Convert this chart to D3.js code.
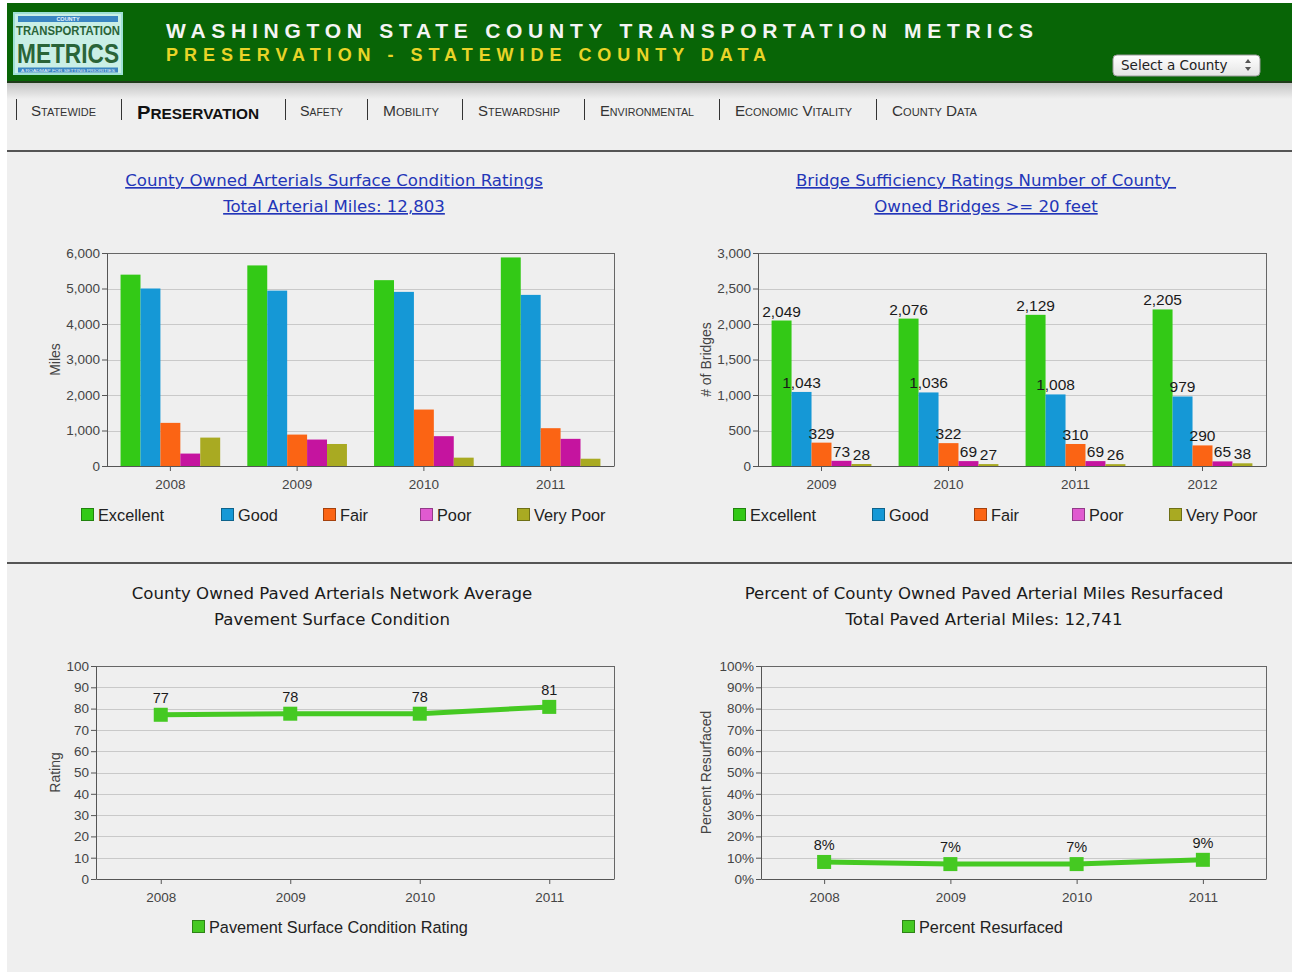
<!DOCTYPE html>
<html><head><meta charset="utf-8">
<script src="https://cdn.jsdelivr.net/npm/d3@7"></script>
<style>body{margin:0;background:#fff}svg{display:block}</style>
</head><body><svg id="c" width="1292" height="973"></svg>
<script>
// ---------- DATA ----------
const seriesNames = ["Excellent", "Good", "Fair", "Poor", "Very Poor"];
const seriesColors = ["#33c916", "#1598d6", "#fb6414", "#c5149f", "#a9aa22"];
const legendColors = ["#33c916", "#1598d6", "#fb6414", "#e05ad0", "#a9aa22"];

const surfaceYears = ["2008", "2009", "2010", "2011"];
const surfaceExcellent = [5390, 5650, 5235, 5875];
const surfaceGood = [5000, 4940, 4905, 4820];
const surfaceFair = [1215, 885, 1590, 1065];
const surfacePoor = [350, 745, 840, 765];
const surfaceVeryPoor = [800, 620, 235, 205];
const surfaceTicks = [0, 1000, 2000, 3000, 4000, 5000, 6000];

const bridgeYears = ["2009", "2010", "2011", "2012"];
const bridgeExcellent = [2049, 2076, 2129, 2205];
const bridgeGood = [1043, 1036, 1008, 979];
const bridgeFair = [329, 322, 310, 290];
const bridgePoor = [73, 69, 69, 65];
const bridgeVeryPoor = [28, 27, 26, 38];
const bridgeTicks = [0, 500, 1000, 1500, 2000, 2500, 3000];

const ratingYears = ["2008", "2009", "2010", "2011"];
const ratingValues = [77.1, 77.6, 77.6, 80.8];
const ratingTicks = [0, 10, 20, 30, 40, 50, 60, 70, 80, 90, 100];

const resurfYears = ["2008", "2009", "2010", "2011"];
const resurfValues = [8, 7, 7, 9];
const resurfTicks = [0, 10, 20, 30, 40, 50, 60, 70, 80, 90, 100];

const navItems = ["Statewide", "Preservation", "Safety", "Mobility", "Stewardship", "Environmental", "Economic Vitality", "County Data"];

// ---------- PAGE ----------
const svg = d3.select("#c");
const SANS = "'Liberation Sans', Arial, sans-serif";
const UI = "'DejaVu Sans', 'Noto Sans', sans-serif";

svg.append("rect").attr("x", 7).attr("y", 3).attr("width", 1285).attr("height", 969).attr("fill", "#efefef");

const defs = svg.append("defs");
const sh = defs.append("linearGradient").attr("id", "shadow").attr("x1", 0).attr("y1", 0).attr("x2", 0).attr("y2", 1);
sh.append("stop").attr("offset", 0).attr("stop-color", "#c4c4c4");
sh.append("stop").attr("offset", 1).attr("stop-color", "#efefef");
const sel = defs.append("linearGradient").attr("id", "selg").attr("x1", 0).attr("y1", 0).attr("x2", 0).attr("y2", 1);
sel.append("stop").attr("offset", 0).attr("stop-color", "#ffffff");
sel.append("stop").attr("offset", 1).attr("stop-color", "#e4e4e4");

// header
svg.append("rect").attr("x", 7).attr("y", 83).attr("width", 1285).attr("height", 16).attr("fill", "url(#shadow)");
svg.append("rect").attr("x", 7).attr("y", 3).attr("width", 1285).attr("height", 80).attr("fill", "#086506");
svg.append("rect").attr("x", 7).attr("y", 81).attr("width", 1285).attr("height", 2).attr("fill", "#1f3a1a");

// logo
const logo = svg.append("g");
logo.append("rect").attr("x", 14).attr("y", 13).attr("width", 108).attr("height", 61).attr("fill", "#c9efe6").attr("stroke", "#9fe0d6").attr("stroke-width", 2);
logo.append("rect").attr("x", 18).attr("y", 16).attr("width", 100).attr("height", 6).attr("fill", "#3a86c2");
logo.append("text").attr("x", 68).attr("y", 21.3).attr("text-anchor", "middle").attr("font-size", 5.5).attr("font-weight", "bold").attr("fill", "#e8f4ff").attr("font-family", SANS).text("COUNTY");
logo.append("text").attr("x", 16).attr("y", 35).attr("font-size", 13).attr("font-weight", "bold").attr("font-family", SANS).attr("fill", "#2a6438")
  .attr("textLength", 104).attr("lengthAdjust", "spacingAndGlyphs").text("TRANSPORTATION");
logo.append("text").attr("x", 17).attr("y", 63).attr("font-size", 27).attr("font-weight", "bold").attr("font-family", SANS).attr("fill", "#2a6438")
  .attr("textLength", 102).attr("lengthAdjust", "spacingAndGlyphs").text("METRICS");
logo.append("rect").attr("x", 18).attr("y", 67.5).attr("width", 100).attr("height", 5).attr("fill", "#3a86c2");
logo.append("text").attr("x", 68).attr("y", 72).attr("text-anchor", "middle").attr("font-size", 3.5).attr("font-family", SANS).attr("fill", "#e8f4ff")
  .attr("textLength", 94).attr("lengthAdjust", "spacingAndGlyphs").text("A ROADMAP FOR SETTING PRIORITIES");

svg.append("text").attr("x", 166).attr("y", 38).attr("font-family", SANS).attr("font-weight", "bold").attr("font-size", 21)
  .attr("fill", "#f4f4f4").attr("textLength", 867).attr("lengthAdjust", "spacing").text("WASHINGTON STATE COUNTY TRANSPORTATION METRICS");
svg.append("text").attr("x", 166).attr("y", 61).attr("font-family", SANS).attr("font-weight", "bold").attr("font-size", 18)
  .attr("fill", "#e9d428").attr("textLength", 600).attr("lengthAdjust", "spacing").text("PRESERVATION - STATEWIDE COUNTY DATA");

// select box
svg.append("rect").attr("x", 1113).attr("y", 55).attr("width", 147).attr("height", 21).attr("rx", 4).attr("fill", "url(#selg)").attr("stroke", "#9a9a9a");
svg.append("text").attr("x", 1121).attr("y", 70).attr("font-family", UI).attr("font-size", 13.5).attr("fill", "#222").text("Select a County");
svg.append("path").attr("d", "M1245,63 L1248,59 L1251,63 Z M1245,67 L1248,71 L1251,67 Z").attr("fill", "#555");

// nav
const navX = [31, 137, 300, 383, 478, 600, 735, 892];
const navW = [65, 122, 43, 56, 82, 94, 117, 85];
const sepX = [16, 121, 285, 367, 462, 584, 719, 876];
sepX.forEach(x => svg.append("line").attr("x1", x + 0.5).attr("x2", x + 0.5).attr("y1", 99).attr("y2", 120).attr("stroke", "#333"));
navItems.forEach((name, i) => {
  const bold = i === 1;
  const big = bold ? 19 : 14.5, small = bold ? 14.5 : 10.5;
  const t = svg.append("text").attr("x", navX[i]).attr("y", bold ? 119 : 116).attr("font-family", SANS)
    .attr("font-weight", bold ? "bold" : "normal").attr("fill", bold ? "#111" : "#333")
    .attr("textLength", navW[i]).attr("lengthAdjust", "spacingAndGlyphs");
  name.split(" ").forEach((w, k) => {
    t.append("tspan").attr("font-size", big).text((k > 0 ? " " : "") + w[0]);
    t.append("tspan").attr("font-size", small).text(w.slice(1).toUpperCase());
  });
});

svg.append("rect").attr("x", 7).attr("y", 150).attr("width", 1285).attr("height", 2).attr("fill", "#555");
svg.append("rect").attr("x", 7).attr("y", 562).attr("width", 1285).attr("height", 2).attr("fill", "#555");

// ---------- titles ----------
function title(cx, y1, y2, l1, l2, link) {
  [[y1, l1], [y2, l2]].forEach(([y, s]) => {
    svg.append("text").attr("x", cx).attr("y", y).attr("text-anchor", "middle").attr("font-family", UI).attr("font-size", 16.6)
      .attr("fill", link ? "#2336b8" : "#1a1a1a").style("text-decoration", link ? "underline" : "none")
      .style("white-space", "pre").text(s);
  });
}
title(334, 186, 212, "County Owned Arterials Surface Condition Ratings", "Total Arterial Miles: 12,803", true);
title(986, 186, 212, "Bridge Sufficiency Ratings Number of County\u00a0", "Owned Bridges >= 20 feet", true);
title(332, 599, 625, "County Owned Paved Arterials Network Average", "Pavement Surface Condition", false);
title(984, 599, 625, "Percent of County Owned Paved Arterial Miles Resurfaced", "Total Paved Arterial Miles: 12,741", false);

// ---------- frame + axes helper ----------
function frame(g, x, y, ticks, fmt, yTitle, titleX) {
  const [x0, x1] = x.range();
  const [yb, yt] = y.range();
  g.append("g").selectAll("line").data(ticks.filter(t => t !== 0)).join("line")
    .attr("x1", x0).attr("x2", x1).attr("y1", d => Math.round(y(d)) + 0.5).attr("y2", d => Math.round(y(d)) + 0.5)
    .attr("stroke", "#c9c9c9");
  g.append("line").attr("x1", x0).attr("x2", x1).attr("y1", yt + 0.5).attr("y2", yt + 0.5).attr("stroke", "#666");
  g.append("line").attr("x1", x1 + 0.5).attr("x2", x1 + 0.5).attr("y1", yt).attr("y2", yb).attr("stroke", "#666");
  const ya = g.append("g").attr("transform", `translate(${x0},0)`)
    .call(d3.axisLeft(y).tickValues(ticks).tickFormat(fmt).tickSize(5).tickPadding(2).tickSizeOuter(0));
  const xa = g.append("g").attr("transform", `translate(0,${yb})`)
    .call(d3.axisBottom(x).tickSize(5).tickPadding(8).tickSizeOuter(0));
  [ya, xa].forEach(a => {
    a.selectAll("path,line").attr("stroke", "#555");
    a.selectAll("text").attr("font-family", SANS).attr("font-size", 13.5).attr("fill", "#444");
  });
  g.append("text").attr("transform", `translate(${titleX},${(yt + yb) / 2}) rotate(-90)`).attr("text-anchor", "middle")
    .attr("font-family", SANS).attr("font-size", 14).attr("fill", "#444").text(yTitle);
}

function legend(g, items, xs, y) {
  items.forEach((it, i) => {
    g.append("rect").attr("x", xs[i] + 0.5).attr("y", y - 6.5).attr("width", 12).attr("height", 12)
      .attr("fill", it.color).attr("stroke", d3.color(it.color).darker(1.2));
    g.append("text").attr("x", xs[i] + 17).attr("y", y + 6).attr("font-family", SANS).attr("font-size", 16.3)
      .attr("fill", "#222").text(it.name);
  });
}

function barChart(opts) {
  const g = svg.append("g");
  const x = d3.scaleBand().domain(opts.years).range([opts.x0, opts.x1]).paddingInner(0.214).paddingOuter(0.107);
  const xi = d3.scaleBand().domain(seriesNames).range([0, x.bandwidth()]);
  const y = d3.scaleLinear().domain([0, opts.max]).range([opts.y1, opts.y0]);
  frame(g, x, y, opts.ticks, d3.format(","), opts.yTitle, opts.titleX);
  const rows = [];
  opts.series.forEach((vals, s) => vals.forEach((v, i) => rows.push({ year: opts.years[i], s, v })));
  g.append("g").selectAll("rect").data(rows).join("rect")
    .attr("x", d => x(d.year) + xi(seriesNames[d.s])).attr("width", xi.bandwidth())
    .attr("y", d => y(d.v)).attr("height", d => y(0) - y(d.v)).attr("fill", d => seriesColors[d.s]);
  g.append("line").attr("x1", opts.x0).attr("x2", opts.x1).attr("y1", opts.y1 + 0.5).attr("y2", opts.y1 + 0.5).attr("stroke", "#555");
  if (opts.labels) {
    g.append("g").selectAll("text").data(rows).join("text")
      .attr("x", d => x(d.year) + xi(seriesNames[d.s]) + xi.bandwidth() / 2).attr("y", d => y(d.v) - 4)
      .attr("text-anchor", "middle").attr("font-family", SANS).attr("font-size", 15.5).attr("fill", "#1a1a1a")
      .text(d => d3.format(",")(d.v));
  }
  legend(g, seriesNames.map((n, i) => ({ name: n, color: legendColors[i] })), opts.legendX, 515);
}

barChart({ x0: 107, x1: 614, y0: 253, y1: 466, years: surfaceYears, max: 6000, ticks: surfaceTicks,
  series: [surfaceExcellent, surfaceGood, surfaceFair, surfacePoor, surfaceVeryPoor], yTitle: "Miles", titleX: 60,
  labels: false, legendX: [81, 221, 323, 420, 517] });
barChart({ x0: 758, x1: 1266, y0: 253, y1: 466, years: bridgeYears, max: 3000, ticks: bridgeTicks,
  series: [bridgeExcellent, bridgeGood, bridgeFair, bridgePoor, bridgeVeryPoor], yTitle: "# of Bridges", titleX: 711,
  labels: true, legendX: [733, 872, 974, 1072, 1169] });

function lineChart(opts) {
  const g = svg.append("g");
  const x = d3.scalePoint().domain(opts.years).range([opts.x0, opts.x1]).padding(0.5);
  const y = d3.scaleLinear().domain([0, 100]).range([opts.y1, opts.y0]);
  frame(g, x, y, opts.ticks, opts.fmt, opts.yTitle, opts.titleX);
  const col = "#45c922";
  g.append("path").datum(opts.values).attr("fill", "none").attr("stroke", col).attr("stroke-width", 5)
    .attr("d", d3.line().x((d, i) => x(opts.years[i])).y(d => y(d)));
  g.selectAll("rect.m").data(opts.values).join("rect").attr("class", "m")
    .attr("x", (d, i) => x(opts.years[i]) - 7).attr("y", d => y(d) - 7).attr("width", 14).attr("height", 14).attr("fill", col);
  g.selectAll("text.l").data(opts.values).join("text").attr("class", "l")
    .attr("x", (d, i) => x(opts.years[i])).attr("y", d => y(d) - 12).attr("text-anchor", "middle")
    .attr("font-family", SANS).attr("font-size", 14.5).attr("fill", "#1a1a1a").text(opts.labelFmt);
  legend(g, [{ name: opts.legend, color: col }], [opts.legendX], 927);
}

lineChart({ x0: 96, x1: 614, y0: 666, y1: 879, years: ratingYears, values: ratingValues, ticks: ratingTicks,
  fmt: d3.format("d"), labelFmt: d => d3.format(".0f")(d), yTitle: "Rating", titleX: 60,
  legend: "Pavement Surface Condition Rating", legendX: 192 });
lineChart({ x0: 761, x1: 1266, y0: 666, y1: 879, years: resurfYears, values: resurfValues, ticks: resurfTicks,
  fmt: d => d + "%", labelFmt: d => d3.format(".0f")(d) + "%", yTitle: "Percent Resurfaced", titleX: 711,
  legend: "Percent Resurfaced", legendX: 902 });
</script></body></html>
